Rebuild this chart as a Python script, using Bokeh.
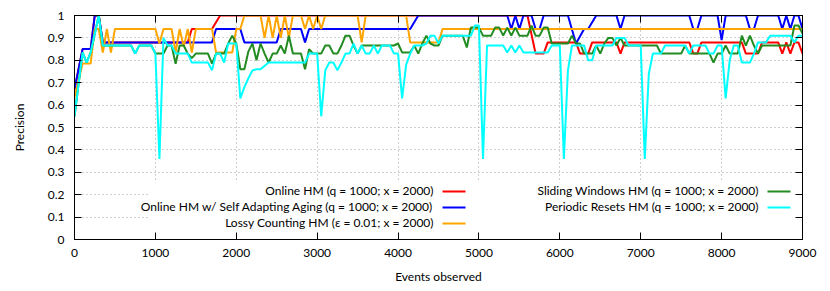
from bokeh.plotting import figure
from bokeh.models import FixedTicker, LinearAxis, Label, BoxAnnotation, Range1d
from bokeh.embed import file_html
from bokeh.resources import INLINE

# ---------------- data ----------------
x_ticks = [0, 1000, 2000, 3000, 4000, 5000, 6000, 7000, 8000, 9000]
y_ticks = [0.0, 0.1, 0.2, 0.3, 0.4, 0.5, 0.6, 0.7, 0.8, 0.9, 1.0]
y_tick_labels = ["0", "0.1", "0.2", "0.3", "0.4", "0.5", "0.6", "0.7", "0.8", "0.9", "1"]

series_names = [
    "Online HM (q = 1000; x = 2000)",
    "Online HM w/ Self Adapting Aging (q = 1000; x = 2000)",
    "Lossy Counting HM (\u03b5 = 0.01; x = 2000)",
    "Sliding Windows HM (q = 1000; x = 2000)",
    "Periodic Resets HM (q = 1000; x = 2000)",
]
series_colors = ["#ff0000", "#0000ff", "#ffa500", "#228b22", "#00ffff"]

online_x = [0, 100, 200, 250, 300, 350, 1400, 1450, 1700, 1800, 5600, 5700, 5800, 5850,
            6200, 6250, 6350, 6400, 6700, 6750, 6800, 7600, 7650, 7700, 7750, 8250, 8300,
            8450, 8500, 8700, 8750, 8800, 8850, 8900, 8950, 9000]
online_y = [0.67, 0.85, 0.85, 1.0, 1.0, 0.88, 0.88, 0.94, 0.94, 1.0, 1.0, 0.83, 0.83, 0.88,
            0.88, 0.83, 0.83, 0.88, 0.88, 0.83, 0.88, 0.88, 0.83, 0.83, 0.88, 0.88, 0.83,
            0.83, 0.88, 0.88, 0.83, 0.88, 0.83, 0.88, 0.88, 0.83]

aging_x = [0, 100, 200, 250, 300, 350, 1700, 1750, 2050, 2100, 2500, 2550, 2800, 2850, 2900,
           4150, 4250, 5350, 5400, 5450, 5500, 5550, 5650, 5700, 5750, 5800, 6100, 6200,
           6300, 6350, 6450, 6700, 6750, 6800, 7600, 7650, 7700, 7750, 7950, 8000, 8050,
           8300, 8350, 8400, 8450, 8700, 8750, 8800, 8850, 8900, 8950, 9000]
aging_y = [0.67, 0.85, 0.85, 1.0, 1.0, 0.88, 0.88, 0.94, 0.94, 0.88, 0.88, 0.94, 0.94, 0.88, 0.94,
           0.94, 1.0, 1.0, 0.94, 1.0, 0.94, 1.0, 1.0, 0.94, 0.94, 1.0, 1.0, 0.875,
           0.94, 0.94, 1.0, 1.0, 0.94, 1.0, 1.0, 0.94, 0.94, 1.0, 1.0, 0.89, 1.0,
           1.0, 0.94, 0.94, 1.0, 1.0, 0.94, 1.0, 0.94, 1.0, 1.0, 0.94]

lossy_x = [0, 100, 200, 250, 300, 350, 400, 450, 500, 1000, 1050, 1100, 1200, 1250, 1300,
           1350, 1400, 1450, 1500, 1700, 1750, 1950, 2000, 2050, 2100, 2300, 2350, 2400,
           2450, 2500, 2550, 2600, 2650, 2700, 2800, 2850, 2900, 2950, 3000, 3050, 3100,
           3500, 3550, 3600, 4100, 4150, 4500, 4550, 9000]
lossy_y = [0.634, 0.786, 0.786, 0.94, 0.94, 0.835, 0.94, 0.835, 0.94, 0.94, 0.875, 0.94, 0.94,
           0.835, 0.94, 0.86, 0.94, 0.835, 0.94, 0.94, 0.835, 0.835, 0.94, 0.94, 1.0, 1.0,
           0.9, 1.0, 0.9, 1.0, 0.9, 1.0, 0.9, 1.0, 1.0, 0.94, 1.0, 0.94, 1.0, 0.94, 1.0,
           1.0, 0.88, 1.0, 1.0, 0.88, 0.88, 0.94, 0.94]

sliding_x = [0, 100, 150, 200, 300, 350, 700, 750, 800, 950, 1000, 1050, 1100, 1150, 1200,
             1250, 1300, 1350, 1400, 1450, 1500, 1650, 1700, 1750, 1850, 1900, 1950, 2000,
             2050, 2100, 2150, 2200, 2250, 2300, 2350, 2400, 2450, 2500, 2550, 2600, 2650,
             2700, 2800, 2850, 2900, 2950, 3050, 3100, 3150, 3200, 3250, 3300, 3350, 3400,
             3450, 3500, 3550, 3950, 4000, 4050, 4150, 4200, 4250, 4300, 4350, 4400, 4450,
             4500, 4550, 4800, 4850, 4900, 5000, 5050, 5150, 5200, 5250, 5300, 5350, 5400,
             5450, 5500, 5600, 5650, 5700, 5750, 5800, 5850, 5900, 6100, 6150, 6200, 6250,
             6300, 6400, 6450, 6500, 6550, 6600, 6650, 6700, 6750, 6800, 7200, 7250, 7500,
             7550, 7600, 7850, 7900, 7950, 8000, 8050, 8100, 8200, 8250, 8300, 8350, 8400,
             8450, 8500, 8850, 8900, 8950, 9000]
sliding_y = [0.55, 0.835, 0.79, 0.835, 1.0, 0.866, 0.866, 0.83, 0.866, 0.866, 0.83, 0.83, 0.83,
             0.866, 0.866, 0.785, 0.866, 0.866, 0.83, 0.81, 0.83, 0.83, 0.785, 0.83, 0.83,
             0.875, 0.91, 0.875, 0.76, 0.76, 0.84, 0.875, 0.80, 0.875, 0.83, 0.79, 0.83, 0.83,
             0.866, 0.83, 0.91, 0.83, 0.83, 0.76, 0.85, 0.83, 0.83, 0.866, 0.866, 0.83, 0.83,
             0.866, 0.91, 0.91, 0.866, 0.83, 0.866, 0.866, 0.875, 0.835, 0.835, 0.866, 0.83,
             0.875, 0.91, 0.875, 0.866, 0.866, 0.91, 0.91, 0.857, 0.946, 0.946, 0.91, 0.91,
             0.946, 0.946, 0.91, 0.946, 0.91, 0.946, 0.91, 0.91, 0.955, 0.91, 0.91, 0.946,
             0.946, 0.875, 0.875, 0.91, 0.875, 0.875, 0.83, 0.83, 0.866, 0.83, 0.875, 0.9,
             0.9, 0.866, 0.9, 0.866, 0.866, 0.83, 0.83, 0.866, 0.83, 0.83, 0.79, 0.83, 0.83,
             0.866, 0.83, 0.83, 0.91, 0.866, 0.91, 0.866, 0.83, 0.866, 0.866, 0.955, 0.955,
             0.92]

resets_x = [0, 100, 150, 200, 300, 350, 700, 750, 800, 950, 1000, 1050, 1100, 1150, 1200,
            1250, 1400, 1450, 1650, 1700, 1750, 1800, 1850, 1900, 2000, 2050, 2100, 2150,
            2200, 2250, 2300, 2400, 2850, 2900, 3000, 3050, 3100, 3150, 3200, 3250, 3300,
            3350, 3400, 3450, 3500, 3550, 3600, 3650, 3700, 3750, 3800, 3900, 3950, 4000,
            4050, 4100, 4150, 4200, 4300, 4350, 4400, 4450, 4500, 4550, 4900, 4950, 5000,
            5050, 5100, 5300, 5350, 5400, 5450, 5500, 5550, 5850, 5900, 6000, 6050, 6100,
            6150, 6300, 6350, 6400, 6450, 6650, 6700, 6800, 6850, 7000, 7050, 7100, 7150,
            7250, 7300, 7550, 7600, 7650, 7800, 7850, 7900, 7950, 8000, 8050, 8100, 8150,
            8200, 8250, 8350, 8400, 8450, 8550, 8600, 8850, 8900, 8950, 9000]
resets_y = [0.55, 0.835, 0.79, 0.835, 1.0, 0.866, 0.866, 0.83, 0.866, 0.866, 0.83, 0.36, 0.90,
            0.866, 0.866, 0.83, 0.83, 0.79, 0.79, 0.755, 0.83, 0.83, 0.79, 0.875, 0.875,
            0.63, 0.68, 0.72, 0.755, 0.76, 0.76, 0.79, 0.79, 0.83, 0.83, 0.55, 0.755, 0.79,
            0.79, 0.755, 0.79, 0.83, 0.83, 0.875, 0.83, 0.866, 0.83, 0.83, 0.866, 0.83,
            0.866, 0.866, 0.83, 0.83, 0.63, 0.78, 0.83, 0.866, 0.866, 0.875, 0.91, 0.91,
            0.875, 0.91, 0.91, 0.955, 0.955, 0.36, 0.866, 0.866, 0.835, 0.866, 0.835, 0.866,
            0.835, 0.835, 0.866, 0.866, 0.36, 0.755, 0.866, 0.866, 0.80, 0.80, 0.866, 0.866,
            0.9, 0.9, 0.866, 0.866, 0.36, 0.74, 0.83, 0.83, 0.866, 0.866, 0.83, 0.866, 0.866,
            0.83, 0.83, 0.866, 0.866, 0.63, 0.80, 0.866, 0.866, 0.79, 0.79, 0.83, 0.88, 0.88,
            0.91, 0.91, 0.88, 0.91, 0.91]

series_x = [online_x, aging_x, lossy_x, sliding_x, resets_x]
series_y = [online_y, aging_y, lossy_y, sliding_y, resets_y]

FONT = "Lato"
FS = "12px"

p = figure(width=830, height=291, output_backend="svg", toolbar_location=None,
           x_range=Range1d(0, 9000), y_range=Range1d(0, 1),
           min_border_left=74, min_border_right=28, min_border_top=15, min_border_bottom=52,
           x_axis_label="Events observed", y_axis_label="Precision")
p.outline_line_color = "black"
p.outline_line_width = 1
p.background_fill_color = "white"
p.border_fill_color = "white"

# grid
p.xgrid.ticker = FixedTicker(ticks=x_ticks)
p.ygrid.ticker = FixedTicker(ticks=y_ticks)
for g in (p.xgrid, p.ygrid):
    g.grid_line_color = "#a0a0a0"
    g.grid_line_dash = "1 3"
    g.grid_line_width = 1

# main axes
p.xaxis.ticker = FixedTicker(ticks=x_ticks)
p.yaxis.ticker = FixedTicker(ticks=y_ticks)
p.yaxis.major_label_overrides = {t: s for t, s in zip(y_ticks, y_tick_labels)}
for ax in (p.xaxis[0], p.yaxis[0]):
    ax.major_tick_in = 7
    ax.major_tick_out = 0
    ax.minor_tick_line_color = None
    ax.axis_line_color = "black"
    ax.major_tick_line_color = "black"
    ax.major_label_text_font = FONT
    ax.major_label_text_font_size = FS
    ax.major_label_text_color = "black"
    ax.axis_label_text_font = FONT
    ax.axis_label_text_font_size = FS
    ax.axis_label_text_font_style = "normal"
    ax.axis_label_text_color = "black"
p.xaxis.major_label_standoff = 9
p.xaxis.axis_label_standoff = 9
p.yaxis.major_label_standoff = 10
p.yaxis.axis_label_standoff = 18

# mirrored axes (tick marks only, no labels drawn)
top = LinearAxis(ticker=FixedTicker(ticks=x_ticks), major_label_text_color=None,
                 major_tick_in=7, major_tick_out=0, minor_tick_line_color=None,
                 major_label_standoff=0, major_label_text_font_size="8px")
right = LinearAxis(ticker=FixedTicker(ticks=y_ticks), major_label_text_color=None,
                   major_tick_in=7, major_tick_out=0, minor_tick_line_color=None,
                   major_label_standoff=0, major_label_text_font_size="8px")
p.add_layout(top, "above")
p.add_layout(right, "right")

# series lines
for xs, ys, c in zip(series_x, series_y, series_colors):
    p.line(xs, ys, line_color=c, line_width=2)

# legend (gnuplot style: text then sample), white box behind it
bg = BoxAnnotation(left=74, top=57, left_units="screen", top_units="screen",
                   fill_color="white", fill_alpha=1.0, line_color=None, level="glyph")
p.add_layout(bg)

legend_pos = [(359, 49), (359, 33), (359, 17), (684, 49), (684, 33)]
for name, c, (lx, ly) in zip(series_names, series_colors, legend_pos):
    p.add_layout(Label(x=lx, y=ly, x_units="screen", y_units="screen", text=name,
                       text_align="right", text_baseline="middle", text_font=FONT,
                       text_font_size=FS, text_color="black"))
    p.add_layout(BoxAnnotation(left=lx + 9, right=lx + 32, bottom=ly - 2, top=ly,
                               left_units="screen", right_units="screen",
                               bottom_units="screen", top_units="screen",
                               fill_color=c, fill_alpha=1.0, line_color=None))

open("out.html", "w").write(file_html(p, INLINE))
